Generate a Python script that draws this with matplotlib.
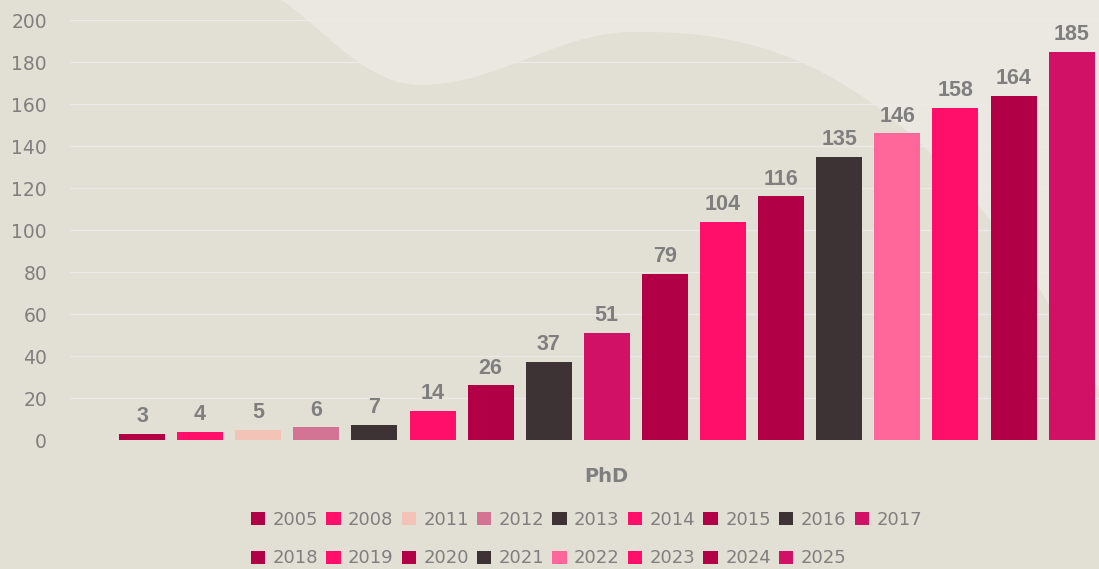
import numpy as np
import matplotlib
matplotlib.use("Agg")
import matplotlib.pyplot as plt
from matplotlib.patches import Polygon

years = ["2005", "2008", "2011", "2012", "2013", "2014", "2015", "2016", "2017",
         "2018", "2019", "2020", "2021", "2022", "2023", "2024", "2025"]
values = [3, 4, 5, 6, 7, 14, 26, 37, 51, 79, 104, 116, 135, 146, 158, 164, 185]
colors = ["#B10045", "#FF0F69", "#F4C3B8", "#D37494", "#3D3335", "#FF0F69",
          "#B10045", "#3D3335", "#D11166", "#B10045", "#FF0F69", "#B10045",
          "#3D3335", "#FF6699", "#FF0F69", "#B10045", "#D11166"]
category = "PhD"
yticks = list(range(0, 201, 20))

W, H = 1099, 569
fig = plt.figure(figsize=(W / 100, H / 100), dpi=100)
fig.patch.set_facecolor("#E2E0D4")

# decorative background
bg = fig.add_axes([0, 0, 1, 1], zorder=-10)
bg.set_xlim(0, W)
bg.set_ylim(H, 0)
bg.axis("off")
t = np.linspace(0, 1, 200)
seg_x = [280 + 140 * t, 420 + 215 * t, 635 + 464 * t]
seg_y = [85 * np.sin(t * np.pi / 2) ** 1.2,
         85 - 53 * (0.5 - 0.5 * np.cos(np.pi * t)),
         32 + 358 * t ** 2.4]
xs = np.concatenate([[280]] + seg_x + [[1099]])
ys = np.concatenate([[0]] + seg_y + [[0]])
bg.add_patch(Polygon(np.column_stack([xs, ys]), closed=True, facecolor="#EAE8E0", edgecolor="none"))

# main axes
left_px, right_px = 70, 1099
bottom_px, top_px = 440, 20
ax = fig.add_axes([left_px / W, 1 - bottom_px / H, (right_px - left_px) / W, (bottom_px - top_px) / H])
ax.set_facecolor("none")

n = len(values)
slot = 0.8 / n
bw = slot * 46 / 58.1
offsets = (np.arange(n) - (n - 1) / 2) * slot
for i in range(n):
    ax.bar(offsets[i], values[i], width=bw, color=colors[i], label=years[i], zorder=3)
    ax.annotate(str(values[i]), (offsets[i], values[i]), xytext=(0, 8.5), textcoords="offset points",
                ha="center", va="baseline", fontsize=15.5, fontweight="bold", color="#7F7F7F",
                family="Liberation Sans", zorder=4)

px_per_unit = 58.1 / slot
center_px = 142 + 58.1 * (n - 1) / 2
ax.set_xlim((left_px - center_px) / px_per_unit, (right_px - center_px) / px_per_unit)
ax.set_ylim(0, 200)
ax.set_yticks(yticks)
ax.set_yticklabels([str(v) for v in yticks], fontsize=13.5, color="#7F7F7F", family="DejaVu Sans")
ax.tick_params(axis="y", length=0, pad=16.5)
ax.set_xticks([0])
ax.set_xticklabels([category], fontsize=14, fontweight="bold", color="#7F7F7F", family="DejaVu Sans")
ax.tick_params(axis="x", length=0, pad=19.5)
ax.grid(axis="y", color="#ECEAE6", linewidth=1, zorder=0)
ax.grid(axis="x", visible=False)
for s in ax.spines.values():
    s.set_visible(False)

# legend: row-major ordering in 9 columns
handles, labels = ax.get_legend_handles_labels()
ncol = 9
order = []
for c in range(ncol):
    for r in range(2):
        idx = r * ncol + c
        if idx < n:
            order.append(idx)
leg = fig.legend([handles[i] for i in order], [labels[i] for i in order], ncol=ncol,
                 loc="upper left", bbox_to_anchor=(251 / W, 1 - 511 / H), frameon=False,
                 prop={"family": "DejaVu Sans", "size": 13}, labelcolor="#7F7F7F",
                 handlelength=0.8, handleheight=0.73, handletextpad=0.4, columnspacing=0.45,
                 labelspacing=1.13, borderpad=0, borderaxespad=0)

fig.savefig("out.png", dpi=100, facecolor=fig.get_facecolor())
